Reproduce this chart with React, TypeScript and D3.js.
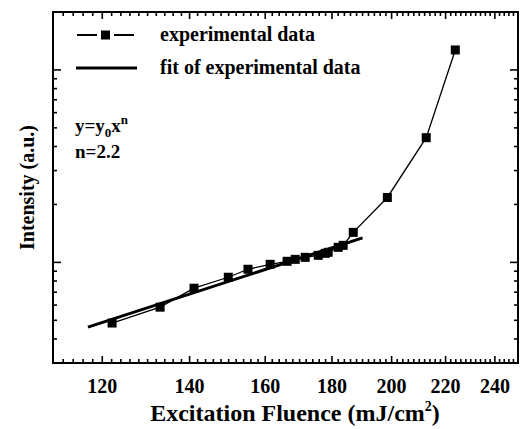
import { useEffect, useRef } from 'react';
import { select, scaleLog, line, range } from 'd3';

// measured points (log-log plot)
const fluence = [122.1, 132.9, 141.1, 149.9, 155.2, 161.4, 166.3, 168.7, 171.7, 175.7, 177.9, 178.8, 182.0, 183.6, 186.9, 198.5, 212.6, 223.8];
const intensity = [0.484, 0.585, 0.734, 0.837, 0.921, 0.977, 1.013, 1.037, 1.062, 1.088, 1.114, 1.128, 1.197, 1.226, 1.432, 2.174, 4.446, 12.7];

// power-law fit y = y0 x^n, straight in log-log, so the two ends are enough
const fitFluence = [117, 190];
const fitIntensity = [0.461, 1.34];

const xMajor = [120, 140, 160, 180, 200, 220, 240];
const xMinor = range(110, 251, 2).filter((v) => !xMajor.includes(v));
const yMajor = [1, 10];
const yMinor = [0.3, 0.4, 0.5, 0.6, 0.7, 0.8, 0.9, 2, 3, 4, 5, 6, 7, 8, 9];

const legendLabels = ['experimental data', 'fit of experimental data'];

const FONT = "'Liberation Serif', 'Times New Roman', serif";

export default function App() {
  const svgRef = useRef<SVGSVGElement>(null);

  useEffect(() => {
    const svg = select(svgRef.current);
    svg.selectAll('*').remove();

    const left = 53, right = 518, top = 12, bottom = 363;

    const x = scaleLog().domain([110, 250]).range([left, right]);
    const y = scaleLog().domain([0.3, 20]).range([bottom, top]);

    const g = svg.append('g');

    // ticks (all pointing inward, on all four sides)
    const tick = (x1: number, y1: number, x2: number, y2: number) =>
      g.append('line').attr('x1', x1).attr('y1', y1).attr('x2', x2).attr('y2', y2)
        .attr('stroke', '#000').attr('stroke-width', 1.6);

    xMajor.forEach((v) => {
      tick(x(v), bottom, x(v), bottom - 7);
      tick(x(v), top, x(v), top + 7);
    });
    xMinor.forEach((v) => {
      tick(x(v), bottom, x(v), bottom - 4);
      tick(x(v), top, x(v), top + 4);
    });
    yMajor.forEach((v) => {
      tick(left, y(v), left + 8, y(v));
      tick(right, y(v), right - 8, y(v));
    });
    yMinor.forEach((v) => {
      tick(left, y(v), left + 4, y(v));
      tick(right, y(v), right - 4, y(v));
    });

    // frame
    g.append('rect')
      .attr('x', left).attr('y', top)
      .attr('width', right - left).attr('height', bottom - top)
      .attr('fill', 'none').attr('stroke', '#000').attr('stroke-width', 2);

    // x tick labels
    g.selectAll('.xlab')
      .data(xMajor)
      .join('text')
      .attr('class', 'xlab')
      .attr('x', (d) => x(d))
      .attr('y', bottom + 30)
      .attr('text-anchor', 'middle')
      .attr('font-family', FONT)
      .attr('font-weight', 'bold')
      .attr('font-size', 20)
      .text((d) => d);

    const pts = fluence.map((f, i) => [f, intensity[i]] as [number, number]);

    const dataLine = line<[number, number]>()
      .x((d) => x(d[0]))
      .y((d) => y(d[1]));

    g.append('path')
      .datum(pts)
      .attr('d', dataLine)
      .attr('fill', 'none')
      .attr('stroke', '#000')
      .attr('stroke-width', 1.3);

    const fitPts = fitFluence.map((f, i) => [f, fitIntensity[i]] as [number, number]);
    g.append('path')
      .datum(fitPts)
      .attr('d', dataLine)
      .attr('fill', 'none')
      .attr('stroke', '#000')
      .attr('stroke-width', 3);

    const sq = 9;
    g.selectAll('.pt')
      .data(pts)
      .join('rect')
      .attr('class', 'pt')
      .attr('x', (d) => x(d[0]) - sq / 2)
      .attr('y', (d) => y(d[1]) - sq / 2)
      .attr('width', sq)
      .attr('height', sq)
      .attr('fill', '#000');

    // legend
    const lg = g.append('g');
    const ly1 = 35, ly2 = 68;
    lg.append('line').attr('x1', 77).attr('x2', 97).attr('y1', ly1).attr('y2', ly1)
      .attr('stroke', '#000').attr('stroke-width', 2);
    lg.append('line').attr('x1', 114).attr('x2', 134).attr('y1', ly1).attr('y2', ly1)
      .attr('stroke', '#000').attr('stroke-width', 2);
    lg.append('rect').attr('x', 105.5 - sq / 2).attr('y', ly1 - sq / 2)
      .attr('width', sq).attr('height', sq).attr('fill', '#000');
    lg.append('line').attr('x1', 76).attr('x2', 137).attr('y1', ly2).attr('y2', ly2)
      .attr('stroke', '#000').attr('stroke-width', 3);
    lg.selectAll('text')
      .data(legendLabels)
      .join('text')
      .attr('x', 160)
      .attr('y', (d, i) => (i === 0 ? ly1 : ly2) + 6)
      .attr('font-family', FONT)
      .attr('font-weight', 'bold')
      .attr('font-size', 20)
      .text((d) => d);

    // equation
    const eq = g.append('text')
      .attr('x', 75).attr('y', 132)
      .attr('font-family', FONT).attr('font-weight', 'bold').attr('font-size', 19);
    eq.append('tspan').text('y=y');
    eq.append('tspan').attr('dy', 5).attr('font-size', 13).text('0');
    eq.append('tspan').attr('dy', -5).text('x');
    eq.append('tspan').attr('dy', -8).attr('font-size', 13).text('n');
    g.append('text')
      .attr('x', 75).attr('y', 158)
      .attr('font-family', FONT).attr('font-weight', 'bold').attr('font-size', 19)
      .text('n=2.2');

    // axis titles
    const xt = g.append('text')
      .attr('x', 295).attr('y', 421)
      .attr('text-anchor', 'middle')
      .attr('font-family', FONT).attr('font-weight', 'bold').attr('font-size', 24);
    xt.append('tspan').text('Excitation Fluence (mJ/cm');
    xt.append('tspan').attr('dy', -10).attr('font-size', 14).text('2');
    xt.append('tspan').attr('dy', 10).text(')');

    g.append('text')
      .attr('transform', `translate(34, ${(top + bottom) / 2}) rotate(-90)`)
      .attr('text-anchor', 'middle')
      .attr('font-family', FONT).attr('font-weight', 'bold').attr('font-size', 20)
      .text('Intensity (a.u.)');
  }, []);

  return (
    <svg
      ref={svgRef}
      width={522}
      height={429}
      style={{ position: 'absolute', left: 0, top: 0, background: '#fff' }}
    />
  );
}
